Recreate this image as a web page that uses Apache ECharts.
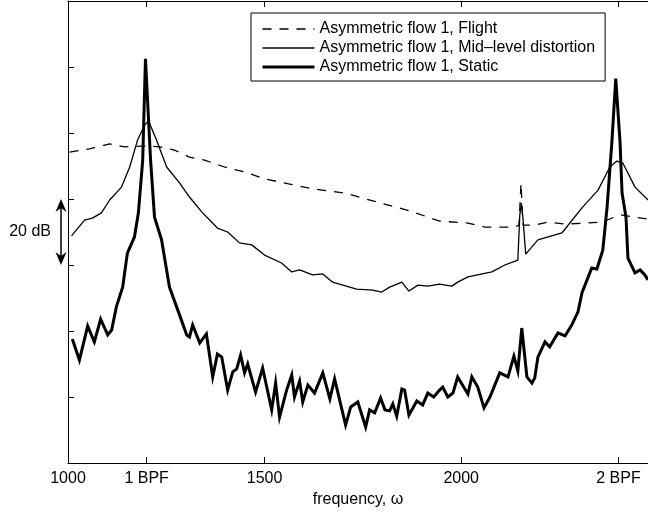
<!DOCTYPE html>
<html>
<head>
<meta charset="utf-8">
<script src="https://cdn.jsdelivr.net/npm/echarts@6/dist/echarts.min.js"></script>
<style>
html,body{margin:0;padding:0;background:#fff;}
#chart{width:648px;height:514px;}
</style>
</head>
<body>
<div id="chart"></div>
<script>
// ---- data (frequency in Hz, level in dB, arbitrary reference) ----
const tickValues = [1000, 1200, 1500, 2000, 2400];
const tickLabels = ['1000', '1 BPF', '1500', '2000', '2 BPF'];
const seriesNames = ['Asymmetric flow 1, Flight', 'Asymmetric flow 1, Mid\u2013level distortion', 'Asymmetric flow 1, Static'];

const flightFreq = [1004,1055,1106,1144,1197,1233,1271,1309,1347,1398,1449,1500,1564,1627,1704,1785,1869,1945,2017,2060,2136,2147,2152,2157,2187,2220,2264,2314,2358,2404,2442,2475];
const flightDb   = [94.2,95.2,96.7,95.8,96.1,95.8,94.8,92.7,91.8,89.7,88.2,86.1,84.5,83.0,81.8,79.1,76.4,73.3,72.7,71.5,71.5,72.1,84.8,72.1,72.1,73.0,72.4,72.7,73.0,75.2,74.5,73.9];

const midFreq = [1009,1042,1062,1085,1106,1136,1157,1177,1195,1205,1225,1251,1284,1309,1340,1380,1406,1436,1467,1500,1543,1569,1589,1622,1648,1673,1734,1775,1798,1818,1849,1867,1890,1915,1945,1976,1991,2017,2078,2111,2144,2149,2153,2157,2164,2195,2256,2307,2348,2378,2396,2411,2442,2475];
const midDb   = [68.8,73.6,74.2,75.8,79.7,83.6,89.7,97.9,102.4,103.6,97.9,89.7,84.8,80.6,76.1,71.2,70.0,66.7,66.1,63.0,60.6,57.9,58.5,57.0,57.3,54.8,52.7,52.4,51.8,53.3,54.8,52.1,53.9,53.6,54.2,53.6,54.8,56.4,57.9,60.0,61.5,75.2,78.8,74.2,63.3,67.6,69.7,77.3,82.7,89.7,91.5,90.9,83.6,79.7];

const staticFreq = [1011,1029,1050,1067,1083,1101,1111,1123,1139,1151,1169,1179,1190,1197,1202,1210,1220,1238,1258,1279,1302,1309,1317,1335,1352,1368,1380,1391,1406,1419,1429,1439,1449,1457,1477,1495,1518,1528,1538,1556,1569,1576,1589,1597,1610,1627,1648,1666,1678,1706,1719,1737,1757,1767,1780,1795,1806,1818,1826,1836,1849,1856,1867,1887,1902,1915,1930,1945,1953,1966,1979,1991,2017,2027,2042,2058,2073,2098,2119,2134,2144,2154,2167,2180,2187,2195,2213,2225,2246,2264,2281,2297,2307,2320,2332,2345,2360,2371,2383,2393,2398,2404,2409,2419,2424,2442,2455,2467,2475];
const staticDb   = [37.6,31.2,41.5,36.7,43.6,38.8,40.3,47.3,53.3,63.6,68.5,75.8,91.8,122.5,122.5,91.8,74.5,67.6,53.3,46.4,38.8,38.2,41.8,36.4,39.1,26.1,33.0,32.1,22.1,27.6,28.5,32.7,27.3,30.0,21.5,28.8,16.1,24.2,13.9,22.1,26.7,20.0,24.8,18.5,23.6,21.2,27.3,19.4,25.5,11.5,17.0,18.5,10.9,16.1,15.2,19.7,16.1,15.8,17.9,14.2,22.4,22.1,14.5,18.8,17.6,21.2,20.0,22.1,23.0,20.0,21.2,26.1,20.9,26.1,23.0,16.7,20.0,27.3,26.1,32.4,27.9,40.9,26.1,24.2,25.8,32.1,36.7,35.2,39.4,38.5,41.8,45.8,51.5,55.5,59.1,58.8,64.5,77.6,97.0,116.5,116.5,97.0,81.8,74.5,62.1,57.6,58.5,57.0,55.5];

function zip(xs, ys) { return xs.map((x, i) => [x, ys[i]]); }

const FONT = '"Liberation Sans", Arial, Helvetica, sans-serif';
const chart = echarts.init(document.getElementById('chart'), null, {renderer: 'canvas'});

const labelMap = {};
tickValues.forEach((v, i) => { labelMap[v] = tickLabels[i]; });

const lineStyles = [
  {color: '#000', width: 1.3, type: [9, 8]},
  {color: '#000', width: 1.3, type: 'solid'},
  {color: '#000', width: 3, type: 'solid', join: 'miter'}
];

const option = {
  animation: false,
  backgroundColor: '#ffffff',
  grid: {left: 68, right: 0, top: 1, bottom: 51, containLabel: false},
  legend: {
    orient: 'vertical',
    left: 251,
    top: 13,
    width: 352,
    padding: [8, 10, 6, 10],
    itemGap: 3,
    itemWidth: 52,
    itemHeight: 14,
    borderColor: '#000',
    borderWidth: 1,
    borderRadius: 0,
    backgroundColor: '#fff',
    itemStyle: {opacity: 0},
    selectedMode: false,
    textStyle: {fontFamily: FONT, fontSize: 16, lineHeight: 16, color: '#000'},
    data: seriesNames.map((n, i) => ({
      name: n,
      itemStyle: {opacity: 0},
      lineStyle: {color: '#000', width: lineStyles[i].width, type: lineStyles[i].type, opacity: 1}
    }))
  },
  xAxis: [{
    type: 'value', min: 1000, max: 2475, position: 'bottom',
    axisLine: {show: true, onZero: false, lineStyle: {color: '#000', width: 1}},
    axisTick: {show: true, inside: true, length: 6, customValues: tickValues, lineStyle: {color: '#000'}},
    axisLabel: {show: true, customValues: tickValues, margin: 8, fontFamily: FONT, fontSize: 16, color: '#000',
      formatter: v => labelMap[v] !== undefined ? labelMap[v] : ''},
    splitLine: {show: false},
    name: 'frequency, \u03c9', nameLocation: 'middle', nameGap: 26,
    nameTextStyle: {fontFamily: FONT, fontSize: 16, color: '#000'}
  }, {
    type: 'value', min: 1000, max: 2475, position: 'top',
    axisLine: {show: true, onZero: false, lineStyle: {color: '#000', width: 1}},
    axisTick: {show: true, inside: true, length: 6, customValues: tickValues, lineStyle: {color: '#000'}},
    axisLabel: {show: false},
    splitLine: {show: false}
  }],
  yAxis: [{
    type: 'value', min: 0, max: 140, interval: 20, position: 'left',
    axisLine: {show: true, onZero: false, lineStyle: {color: '#000', width: 1}},
    axisTick: {show: true, inside: true, length: 6, lineStyle: {color: '#000'}},
    axisLabel: {show: false},
    splitLine: {show: false}
  }],
  series: [{
    name: seriesNames[0], type: 'line', symbol: 'none', smooth: false,
    data: zip(flightFreq, flightDb),
    lineStyle: lineStyles[0],
    itemStyle: {color: '#000'}, z: 2
  }, {
    name: seriesNames[1], type: 'line', symbol: 'none', smooth: false,
    data: zip(midFreq, midDb),
    lineStyle: lineStyles[1],
    itemStyle: {color: '#000'}, z: 3
  }, {
    name: seriesNames[2], type: 'line', symbol: 'none', smooth: false,
    data: zip(staticFreq, staticDb),
    lineStyle: lineStyles[2],
    itemStyle: {color: '#000'}, z: 4
  }]
};
chart.setOption(option);

// 20 dB scale arrow, placed from the axis scale (between 60 and 80 dB)
const pTop = chart.convertToPixel({yAxisIndex: 0}, 80);
const pBot = chart.convertToPixel({yAxisIndex: 0}, 60);
const ax = 61;
chart.setOption({
  graphic: [
    {type: 'line', shape: {x1: ax, y1: pTop + 8, x2: ax, y2: pBot - 8}, style: {stroke: '#000', lineWidth: 1.5}},
    {type: 'polygon', shape: {points: [[ax, pTop], [ax - 5.5, pTop + 13], [ax, pTop + 9], [ax + 5.5, pTop + 13]]}, style: {fill: '#000'}},
    {type: 'polygon', shape: {points: [[ax, pBot], [ax - 5.5, pBot - 13], [ax, pBot - 9], [ax + 5.5, pBot - 13]]}, style: {fill: '#000'}},
    {type: 'text', x: 51, y: (pTop + pBot) / 2, style: {text: '20 dB', fontFamily: FONT, fontSize: 16, fill: '#000', align: 'right', verticalAlign: 'middle'}}
  ]
});
</script>
</body>
</html>
